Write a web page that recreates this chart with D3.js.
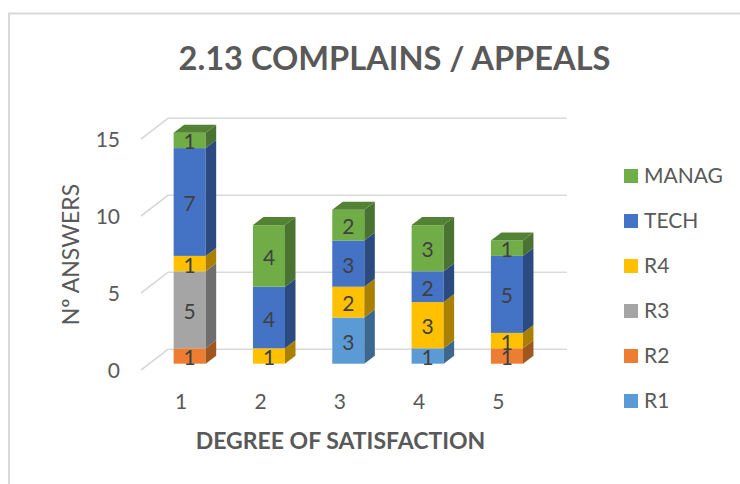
<!DOCTYPE html>
<html><head><meta charset="utf-8">
<script src="https://cdnjs.cloudflare.com/ajax/libs/d3/7.8.5/d3.min.js"></script>
<style>html,body{margin:0;padding:0;background:#fff}svg{display:block}text{font-family:Lato,"Open Sans",sans-serif}</style>
</head><body><svg id="c" width="740" height="484"></svg>
<script>
const categories = ["1","2","3","4","5"];
const seriesNames = ["R1","R2","R3","R4","TECH","MANAG"];
const R1 = [0,0,3,1,0];
const R2 = [1,0,0,0,1];
const R3 = [5,0,0,0,0];
const R4 = [1,1,2,3,1];
const TECH = [7,4,3,2,5];
const MANAG = [1,4,2,3,1];
const yTicks = [0,5,10,15];
const colors = ["#5B9BD5","#ED7D31","#A5A5A5","#FFC000","#4472C4","#70AD47"];
const sideColors = ["#3A6890","#A0561F","#6E6E6E","#A98000","#2B4A80","#4A7230"];
const topColors = ["#4A80B0","#C0652A","#858585","#CC9A00","#375C9E","#548235"];
const title = "2.13 COMPLAINS / APPEALS";
const xTitle = "DEGREE OF SATISFACTION";
const yTitle = "Nº ANSWERS";

const values = [R1,R2,R3,R4,TECH,MANAG];
const svg = d3.select("#c");
const text = "#595959";

svg.append("rect").attr("x",9).attr("y",13.5).attr("width",760).attr("height",520)
  .attr("fill","#fff").attr("stroke","#d9d9d9").attr("stroke-width",2);

const y = d3.scaleLinear().domain([0,15]).range([370,139]);
const x = d3.scaleBand().domain(categories).range([150,546.6]).paddingInner(0.596).paddingOuter(0.298);
const barLift = 6.3, dx = 10.5, dy = 8, gridDx = 27, gridDy = 20.7, gridRight = 566.7;

const grid = svg.append("g").attr("fill","none").attr("stroke","#d9d9d9").attr("stroke-width",1.6);
grid.selectAll("path").data(yTicks).join("path")
  .attr("d", d => `M141,${y(d)}L${141+gridDx},${y(d)-gridDy}L${gridRight},${y(d)-gridDy}`);

svg.append("g").selectAll("text").data(yTicks).join("text")
  .attr("x",120).attr("y",d=>y(d)+8).attr("text-anchor","end")
  .attr("font-size",21).attr("fill",text).text(d=>d);

svg.append("g").selectAll("text").data(categories).join("text")
  .attr("x",d=>x(d)+x.bandwidth()/2-8.5).attr("y",409).attr("text-anchor","middle")
  .attr("font-size",21).attr("fill",text).text(d=>d);

const labels = svg.append("g");
categories.forEach((c,ci) => {
  const g = svg.append("g");
  const x0 = x(c), x1 = x0 + x.bandwidth();
  let acc = 0;
  const total = d3.sum(values, v => v[ci]);
  values.forEach((v,si) => {
    const val = v[ci];
    if (!val) return;
    const yb = y(acc) - barLift, yt = y(acc+val) - barLift;
    g.append("rect").attr("x",x0).attr("y",yt).attr("width",x1-x0).attr("height",yb-yt).attr("fill",colors[si]);
    g.append("path").attr("d",`M${x1},${yb}L${x1+dx},${yb-dy}L${x1+dx},${yt-dy}L${x1},${yt}Z`).attr("fill",sideColors[si]);
    if (acc+val === total)
      g.append("path").attr("d",`M${x0},${yt}L${x0+dx},${yt-dy}L${x1+dx},${yt-dy}L${x1},${yt}Z`).attr("fill",topColors[si]);
    labels.append("text").attr("x",(x0+x1)/2).attr("y",(yb+yt)/2+9).attr("text-anchor","middle")
      .attr("font-size",21).attr("fill","#404040").text(val);
    acc += val;
  });
});
labels.raise();

svg.append("text").attr("x",394.5).attr("y",70).attr("text-anchor","middle")
  .attr("font-size",32.6).attr("font-weight",700).attr("fill",text).text(title);
svg.append("text").attr("x",340.5).attr("y",449).attr("text-anchor","middle")
  .attr("font-size",23).attr("font-weight",700).attr("fill",text).text(xTitle);
svg.append("text").attr("transform","translate(79,254.5) rotate(-90)").attr("text-anchor","middle")
  .attr("font-size",23).attr("fill",text).text(yTitle);

const legY = d3.scalePoint().domain(seriesNames.slice().reverse()).range([176,401]);
const leg = svg.append("g").selectAll("g").data(seriesNames).join("g")
  .attr("transform",d=>`translate(624,${legY(d)})`);
leg.append("rect").attr("width",14).attr("height",14).attr("y",-7).attr("fill",(d,i)=>colors[i]);
leg.append("text").attr("x",20).attr("y",6.5).attr("font-size",21).attr("fill",text).text(d=>d);
</script></body></html>
